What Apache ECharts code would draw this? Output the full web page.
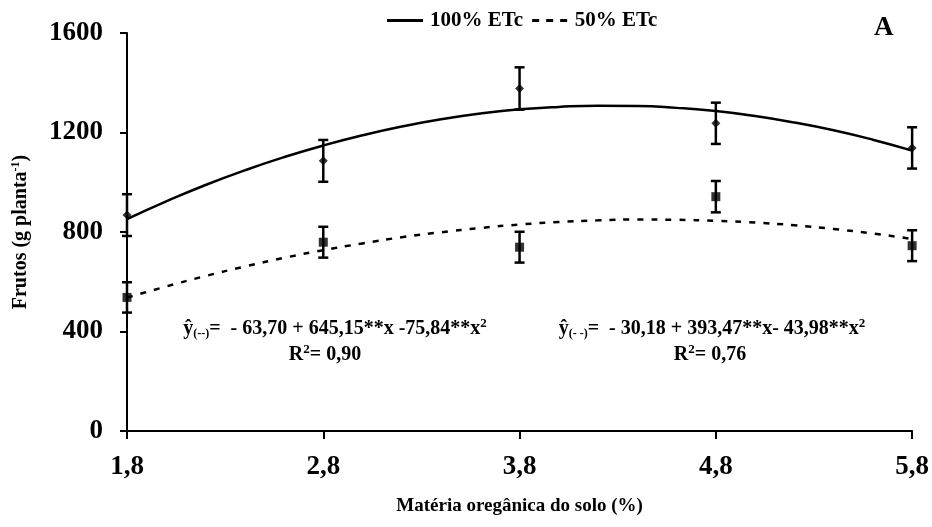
<!DOCTYPE html>
<html>
<head>
<meta charset="utf-8">
<script src="https://cdn.jsdelivr.net/npm/echarts@6/dist/echarts.min.js"></script>
<style>html,body{margin:0;padding:0;background:#fff}#c{width:932px;height:527px}</style>
</head>
<body>
<div id="c"></div>
<script>
// X tick positions (organic matter, %)
const xTicks = [1.8, 2.8, 3.8, 4.8, 5.8];
// Observed means and error half-widths
const obsX = [1.8, 2.8, 3.8, 4.8, 5.8];
const obs100 = [868, 1086, 1377, 1237, 1138];
const err100 = [84, 84, 85, 83, 83];
const obs50 = [537, 759, 739, 942, 745];
const err50 = [61, 62, 62, 63, 62];
// Fitted curves
const curveX = [1.8, 2.0, 2.2, 2.4, 2.6, 2.8, 3.0, 3.2, 3.4, 3.6, 3.8, 4.0, 4.2, 4.4, 4.6, 4.8, 5.0, 5.2, 5.4, 5.6, 5.8];
const fit100 = [852, 923, 989, 1048, 1101, 1148, 1189, 1224, 1253, 1276, 1293, 1303, 1308, 1307, 1299, 1286, 1266, 1240, 1209, 1171, 1127];
const fit50 = [536, 581, 623, 661, 696, 727, 754, 779, 799, 816, 830, 840, 847, 850, 849, 845, 838, 827, 812, 794, 772];

const F = '"Liberation Serif","Times New Roman",serif';
const pair = (xs, ys) => xs.map((x, i) => [x, ys[i]]);
const errData = (xs, ys, es) => xs.map((x, i) => [x, ys[i] - es[i], ys[i] + es[i]]);

function errRender(params, api) {
  const x = api.value(0);
  const lo = api.coord([x, api.value(1)]);
  const hi = api.coord([x, api.value(2)]);
  const w = 5;
  const st = { stroke: '#000', lineWidth: 2.5 };
  return {
    type: 'group',
    children: [
      { type: 'line', shape: { x1: lo[0], y1: lo[1], x2: hi[0], y2: hi[1] }, style: st },
      { type: 'line', shape: { x1: lo[0] - w, y1: lo[1], x2: lo[0] + w, y2: lo[1] }, style: st },
      { type: 'line', shape: { x1: hi[0] - w, y1: hi[1], x2: hi[0] + w, y2: hi[1] }, style: st }
    ]
  };
}

const eqRich = {
  a: { font: 'bold 20px ' + F, fill: '#000' },
  s: { font: 'bold 12px ' + F, fill: '#000', padding: [9, 0, 0, 0] },
  p: { font: 'bold 13px ' + F, fill: '#000', padding: [0, 0, 11, 0] }
};

const chart = echarts.init(document.getElementById('c'), null, { renderer: 'canvas' });
chart.setOption({
  animation: false,
  backgroundColor: '#fff',
  grid: { left: 127, right: 14, top: 33, bottom: 96 },
  legend: {
    data: [
      { name: '100% ETc', icon: 'path://M0,0 H36 V3 H0 Z' },
      { name: '50% ETc', icon: 'path://M0,0 H7 V3 H0 Z M14,0 H21 V3 H14 Z M28,0 H35 V3 H28 Z' }
    ],
    left: 382, top: 5,
    itemWidth: 36, itemHeight: 3, itemGap: 9,
    textStyle: { fontFamily: F, fontWeight: 'bold', fontSize: 21, color: '#000', padding: [0, 0, 0, 2] }
  },
  xAxis: {
    type: 'value', min: 1.8, max: 5.8,
    name: 'Matéria oregânica do solo (%)',
    nameLocation: 'middle', nameGap: 66,
    nameTextStyle: { fontFamily: F, fontWeight: 'bold', fontSize: 19, color: '#000' },
    axisLine: { show: true, lineStyle: { color: '#000', width: 2 } },
    axisTick: { show: true, customValues: xTicks, length: 8, lineStyle: { color: '#000', width: 2 } },
    axisLabel: { customValues: xTicks, margin: 23, fontFamily: F, fontWeight: 'bold', fontSize: 27, color: '#000',
      formatter: v => v.toFixed(1).replace('.', ',') },
    splitLine: { show: false }
  },
  yAxis: {
    type: 'value', min: 0, max: 1600, interval: 400,
    name: '{a|Frutos (g planta}{s|-1}{a|)}',
    nameLocation: 'middle', nameGap: 95,
    nameTextStyle: { rich: {
      a: { fontFamily: F, fontWeight: 'bold', fontSize: 20, color: '#000' },
      s: { fontFamily: F, fontWeight: 'bold', fontSize: 12, color: '#000', verticalAlign: 'top', padding: [0, 0, 10, 0] }
    } },
    axisLine: { show: true, lineStyle: { color: '#000', width: 2 } },
    axisTick: { show: true, length: 7, lineStyle: { color: '#000', width: 2 } },
    axisLabel: { margin: 24, fontFamily: F, fontWeight: 'bold', fontSize: 27, color: '#000',
      formatter: v => String(v) },
    splitLine: { show: false }
  },
  series: [
    { name: '100% ETc', type: 'line', data: pair(curveX, fit100), smooth: true, showSymbol: false, symbol: 'none',
      lineStyle: { color: '#000', width: 2.5 }, itemStyle: { color: '#000' }, z: 2 },
    { name: '50% ETc', type: 'line', data: pair(curveX, fit50), smooth: true, showSymbol: false, symbol: 'none',
      lineStyle: { color: '#000', width: 2.5, type: [6, 8] }, itemStyle: { color: '#000' }, z: 2 },
    { type: 'custom', renderItem: errRender, data: errData(obsX, obs100, err100), z: 3 },
    { type: 'custom', renderItem: errRender, data: errData(obsX, obs50, err50), z: 3 },
    { type: 'scatter', data: pair(obsX, obs100), symbol: 'diamond', symbolSize: 9, itemStyle: { color: '#000' }, z: 4 },
    { type: 'scatter', data: pair(obsX, obs50), symbol: 'rect', symbolSize: 9, itemStyle: { color: '#000' }, z: 4 }
  ],
  graphic: [
    { type: 'text', left: 874, top: 15, style: { text: 'A', font: 'bold 27px ' + F, fill: '#000' } },
    { type: 'text', x: 335, y: 329, style: {
      text: '{a|ŷ}{s|(--)}{a|=  - 63,70 + 645,15**x -75,84**x}{p|2}', align: 'center', verticalAlign: 'middle', rich: eqRich } },
    { type: 'text', x: 325, y: 355, style: {
      text: '{a|R}{p|2}{a|= 0,90}', align: 'center', verticalAlign: 'middle', rich: eqRich } },
    { type: 'text', x: 712, y: 329, style: {
      text: '{a|ŷ}{s|(- -)}{a|=  - 30,18 + 393,47**x- 43,98**x}{p|2}', align: 'center', verticalAlign: 'middle', rich: eqRich } },
    { type: 'text', x: 710, y: 355, style: {
      text: '{a|R}{p|2}{a|= 0,76}', align: 'center', verticalAlign: 'middle', rich: eqRich } }
  ]
});
</script>
</body>
</html>
